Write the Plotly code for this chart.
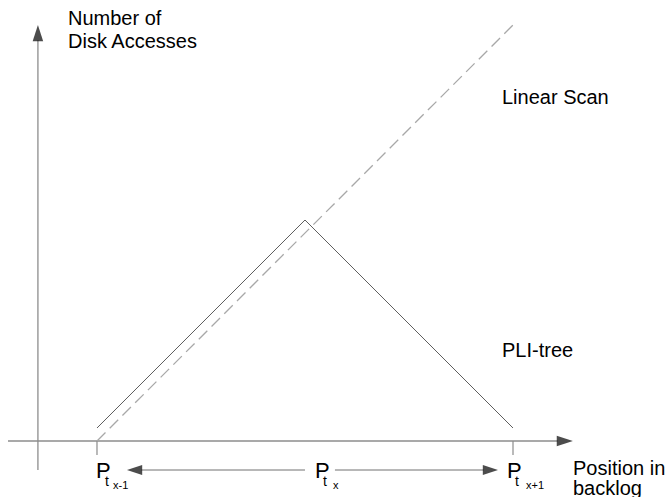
import plotly.graph_objects as go

# backlog positions P_{t_{x-1}}, P_{t_x}, P_{t_{x+1}} (one interval = 1 unit)
t_pos = [1, 2, 3]
t_subs = ["x-1", "x", "x+1"]

# PLI-tree: cost rises towards P_tx and falls again
pli_x = [1, 2, 3]
pli_y = [0.0625, 1.0625, 0.0625]

# linear scan: cost keeps growing
scan_x = [1, 3]
scan_y = [0, 2]

W, H = 667, 497
FONT = "Arial, Liberation Sans, sans-serif"


def px(x):
    return x / W


def py(y):
    return 1 - y / H


def arrow_line(xs, ys, color, width, head):
    return go.Scatter(
        x=xs, y=ys, mode="lines+markers",
        line=dict(color=color, width=width),
        marker=dict(symbol="arrow", size=[0, head], color="black",
                    angleref="previous", line=dict(width=0)),
        hoverinfo="skip")


fig = go.Figure()

# axes with arrow heads
fig.add_trace(arrow_line([0.572, 3.288], [0, 0], "#8c8c8c", 1.3, 17))
fig.add_trace(arrow_line([0.716, 0.716], [-0.139, 2.0], "#8c8c8c", 1.3, 17))

# ticks under the first and last position
fig.add_trace(go.Scatter(
    x=[t_pos[0], t_pos[0], None, t_pos[2], t_pos[2]],
    y=[0, -0.0673, None, 0, -0.0673],
    mode="lines", line=dict(color="#8c8c8c", width=1.2), hoverinfo="skip"))

# curves
fig.add_trace(go.Scatter(x=pli_x, y=pli_y, mode="lines",
                         line=dict(color="#5e5e5e", width=1)))
fig.add_trace(go.Scatter(x=scan_x, y=scan_y, mode="lines",
                         line=dict(color="#a8a8a8", width=1.3, dash="12px,6px")))

# double arrow between the positions
fig.add_trace(arrow_line([2.0, 1.144], [-0.1394, -0.1394], "#707070", 1, 16))
fig.add_trace(arrow_line([2.144, 2.928], [-0.1394, -0.1394], "#707070", 1, 16))

ann = []


def label(text, x, y, size):
    ann.append(dict(text=text, x=px(x), y=py(y), xref="paper", yref="paper",
                    xanchor="left", yanchor="middle", showarrow=False,
                    font=dict(family=FONT, size=size, color="black")))


label("Number of", 65.5, 18, 20)
label("Disk Accesses", 65.5, 41, 20)
label("Linear Scan", 500, 97, 20)
label("PLI-tree", 500, 350, 20)
label("Position in", 570.5, 468, 20)
label("backlog", 570.5, 488, 20)

p_left = [94, 313, 505]
t_left = [103, 321, 513]
s_left = [111, 331, 524]
for i, sub in enumerate(t_subs):
    label("P", p_left[i], 470.4, 22)
    label("t", t_left[i], 481, 14)
    label(sub, s_left[i], 484.5, 11)

fig.update_layout(
    width=W, height=H,
    margin=dict(l=0, r=0, t=0, b=0),
    paper_bgcolor="white", plot_bgcolor="white",
    showlegend=False,
    xaxis=dict(range=[0.5337, 3.7404], visible=False),
    yaxis=dict(range=[-0.2692, 2.1202], visible=False),
    annotations=ann,
)

fig.write_html("out.html", config={"displayModeBar": False},
               post_script="document.body.style.margin='0';")
